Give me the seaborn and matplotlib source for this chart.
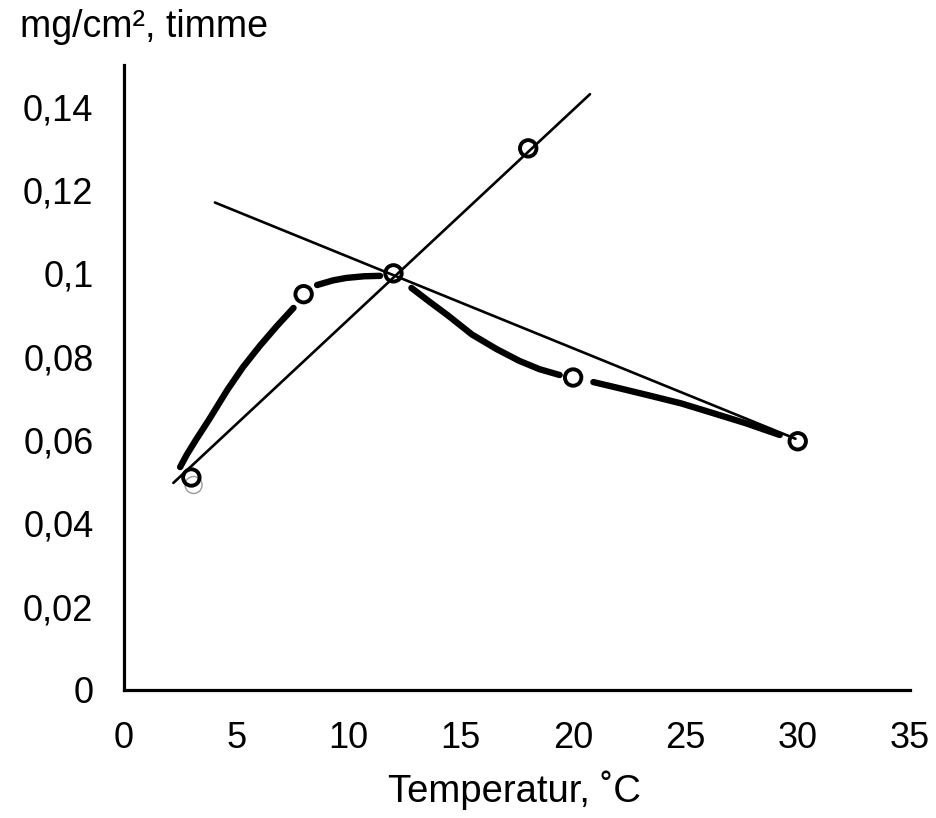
import matplotlib
matplotlib.use("Agg")
import matplotlib.pyplot as plt
import seaborn as sns
import pandas as pd

# measured points (temperature in °C, mg/cm² per hour)
point_x = [3, 8, 12, 18, 20, 30]
point_y = [0.051, 0.095, 0.100, 0.130, 0.075, 0.0597]

# hand-drawn thick curve, in separate strokes
curve_x = [2.5, 2.8, 3.2, 3.8, 4.6, 5.3, 6.05, 6.8, 7.55,
           8.6, 9.3, 9.9, 10.7, 11.4,
           12.8, 13.6, 14.4, 15.5, 16.6, 17.6, 18.5, 19.4,
           20.9, 22.0, 23.3, 24.8, 26.2, 27.7, 29.2]
curve_y = [0.0535, 0.0565, 0.0600, 0.0650, 0.0720, 0.0775, 0.0826, 0.0873, 0.0917,
           0.0972, 0.0983, 0.0989, 0.0993, 0.0994,
           0.0965, 0.0932, 0.0900, 0.0853, 0.0818, 0.0790, 0.0770, 0.0756,
           0.0739, 0.0725, 0.0708, 0.0688, 0.0665, 0.0640, 0.0612]
curve_seg = [1] * 9 + [2] * 5 + [3] * 8 + [4] * 7

# two straight fitted lines (end points)
line1_x = [2.2, 20.75]
line1_y = [0.0497, 0.1430]
line2_x = [4.05, 29.9]
line2_y = [0.1170, 0.0603]

xticks = [0, 5, 10, 15, 20, 25, 30, 35]
yticks = [0, 0.02, 0.04, 0.06, 0.08, 0.10, 0.12, 0.14]
ytick_labels = ["0", "0,02", "0,04", "0,06", "0,08", "0,1", "0,12", "0,14"]

sns.set_theme(style="white")
plt.rcParams["font.family"] = ["Liberation Sans", "DejaVu Sans"]

fig = plt.figure(figsize=(9.37, 8.18), dpi=100)
ax = fig.add_axes([0.1323, 0.1565, 0.8389, 0.764])

curve_df = pd.DataFrame({"x": curve_x, "y": curve_y, "seg": curve_seg})
sns.lineplot(data=curve_df, x="x", y="y", units="seg", estimator=None,
             sort=False, color="black", linewidth=4.6, ax=ax,
             solid_capstyle="round", solid_joinstyle="round", legend=False)

sns.lineplot(x=line1_x, y=line1_y, color="black", linewidth=1.9, ax=ax,
             estimator=None, sort=False)
sns.lineplot(x=line2_x, y=line2_y, color="black", linewidth=1.9, ax=ax,
             estimator=None, sort=False)

sns.scatterplot(x=point_x, y=point_y, s=140, facecolor="none",
                edgecolor="black", linewidth=2.8, ax=ax, zorder=5)
# faint duplicate ring near the first point (scan artefact)
sns.scatterplot(x=[3.1], y=[0.0492], s=150, facecolor="none",
                edgecolor="#9a9a9a", linewidth=1.0, ax=ax, zorder=4)

ax.set_xlim(0, 35)
ax.set_ylim(0, 0.15)
ax.set_xticks(xticks)
ax.set_xticklabels([str(v) for v in xticks])
ax.set_yticks(yticks)
ax.set_yticklabels(ytick_labels)
ax.set_xlabel("")
ax.set_ylabel("")

for s in ["top", "right"]:
    ax.spines[s].set_visible(False)
for s in ["left", "bottom"]:
    ax.spines[s].set_linewidth(2.3)
    ax.spines[s].set_color("black")

ax.tick_params(axis="both", which="major", direction="out", length=11,
               width=2.2, colors="black", labelsize=26)
ax.tick_params(axis="x", pad=11)
ax.tick_params(axis="y", pad=11)

fig.text(0.021, 0.955, "mg/cm², timme", fontsize=27, ha="left",
         va="baseline", color="black")
fig.text(0.549, 0.020, "Temperatur, ˚C", fontsize=27.5, ha="center",
         va="baseline", color="black")

fig.savefig("out.png", dpi=100, facecolor="white")
